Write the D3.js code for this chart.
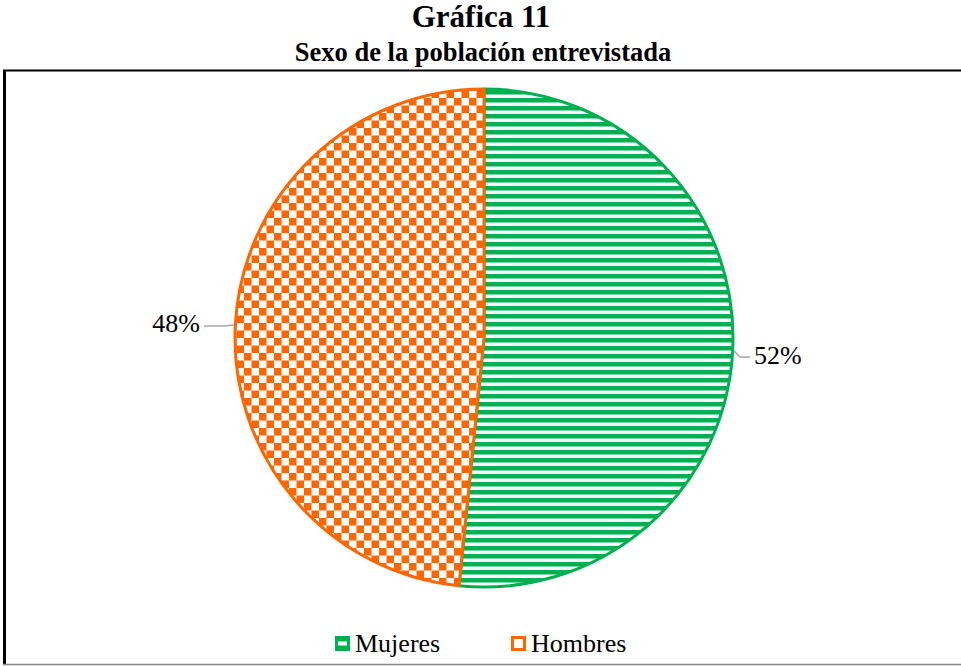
<!DOCTYPE html>
<html>
<head>
<meta charset="utf-8">
<script src="https://cdn.jsdelivr.net/npm/d3@7"></script>
<style>
  body { margin: 0; background: #fff; }
</style>
</head>
<body>
<script>
  var w = 961, h = 666;
  var serif = "Liberation Serif";

  // data
  var categories = ["Mujeres", "Hombres"];
  var values = [51.6, 48.4];
  var labels = ["52%", "48%"];
  var colors = ["#00b050", "#ff6600"];

  var svg = d3.select("body").append("svg")
    .attr("width", w)
    .attr("height", h)
    .attr("font-family", serif)
    .style("display", "block");

  // patterns
  var defs = svg.append("defs");
  var stripes = defs.append("pattern")
    .attr("id", "stripes")
    .attr("patternUnits", "userSpaceOnUse")
    .attr("width", 8).attr("height", 8);
  stripes.append("rect").attr("width", 8).attr("height", 8).attr("fill", "#fff");
  stripes.append("rect").attr("width", 8).attr("height", 4.5).attr("fill", colors[0]);

  var checks = defs.append("pattern")
    .attr("id", "checks")
    .attr("patternUnits", "userSpaceOnUse")
    .attr("width", 15).attr("height", 15);
  checks.append("rect").attr("width", 15).attr("height", 15).attr("fill", "#fff");
  checks.append("rect").attr("width", 7.5).attr("height", 7.5).attr("fill", colors[1]);
  checks.append("rect").attr("x", 7.5).attr("y", 7.5).attr("width", 7.5).attr("height", 7.5).attr("fill", colors[1]);

  var fills = ["url(#stripes)", "url(#checks)"];

  // titles
  svg.append("text")
    .attr("x", 481).attr("y", 27)
    .attr("text-anchor", "middle")
    .attr("font-weight", "bold")
    .attr("font-size", 31)
    .text("Gráfica 11");
  svg.append("text")
    .attr("x", 483).attr("y", 61)
    .attr("text-anchor", "middle")
    .attr("font-weight", "bold")
    .attr("font-size", 26.5)
    .text("Sexo de la población entrevistada");

  // frame
  svg.append("line").attr("x1", 3).attr("x2", w).attr("y1", 70.5).attr("y2", 70.5)
    .attr("stroke", "#000").attr("stroke-width", 2);
  svg.append("line").attr("x1", 4.5).attr("x2", 4.5).attr("y1", 70).attr("y2", 665)
    .attr("stroke", "#000").attr("stroke-width", 3);
  svg.append("line").attr("x1", 3).attr("x2", w).attr("y1", 664.5).attr("y2", 664.5)
    .attr("stroke", "#888").attr("stroke-width", 1.5);

  // pie
  var cx = 484, cy = 338, r = 249;
  var pie = d3.pie().sort(null).value(function(d) { return d; });
  var arc = d3.arc().innerRadius(0).outerRadius(r);
  var arcs = pie(values);

  var g = svg.append("g").attr("transform", "translate(" + cx + "," + cy + ")");
  g.selectAll("path.slice")
    .data(arcs)
    .enter().append("path")
      .attr("class", "slice")
      .attr("d", arc)
      .attr("fill", function(d, i) { return fills[i]; })
      .attr("stroke", function(d, i) { return colors[i]; })
      .attr("stroke-width", 3)
      .attr("stroke-linejoin", "round");

  // data labels with leader lines
  var labelPos = [
    { line: [[250, 13], [256, 19], [266, 19]], text: [270, 26], anchor: "start" },
    { line: [[-250, -13], [-260, -12], [-280, -12]], text: [-284, -6], anchor: "end" }
  ];
  arcs.forEach(function(d, i) {
    var p = labelPos[i];
    g.append("path")
      .attr("d", d3.line()(p.line))
      .attr("fill", "none")
      .attr("stroke", "#a6a6a6")
      .attr("stroke-width", 1.5);
    g.append("text")
      .attr("x", p.text[0]).attr("y", p.text[1])
      .attr("text-anchor", p.anchor)
      .attr("font-size", 26)
      .attr("fill", "#000")
      .text(labels[i]);
  });

  // legend
  var legendX = [335, 511];
  var lg = svg.selectAll("g.legend")
    .data(categories)
    .enter().append("g")
      .attr("class", "legend")
      .attr("transform", function(d, i) { return "translate(" + legendX[i] + ",636)"; });
  lg.append("rect")
    .attr("x", 1.5).attr("y", 1.5).attr("width", 12).attr("height", 12)
    .attr("fill", "#fff")
    .attr("stroke", function(d, i) { return colors[i]; })
    .attr("stroke-width", 3);
  lg.filter(function(d, i) { return i === 0; }).append("rect")
    .attr("x", 1.5).attr("y", 1.5).attr("width", 12).attr("height", 4)
    .attr("fill", colors[0]);
  lg.filter(function(d, i) { return i === 0; }).append("rect")
    .attr("x", 1.5).attr("y", 9.5).attr("width", 12).attr("height", 4)
    .attr("fill", colors[0]);
  lg.append("text")
    .attr("x", 20).attr("y", 16)
    .attr("font-size", 26)
    .attr("fill", "#000")
    .text(function(d) { return d; });
</script>
</body>
</html>
